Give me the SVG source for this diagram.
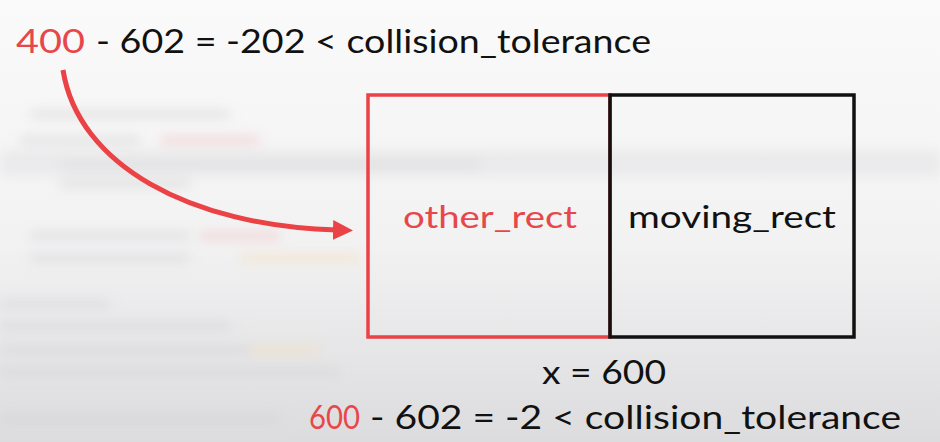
<svg xmlns="http://www.w3.org/2000/svg" width="940" height="442" viewBox="0 0 940 442">
<defs>
<linearGradient id="bg" x1="0" y1="0" x2="0" y2="1">
<stop offset="0" stop-color="#fafafa"/>
<stop offset="0.55" stop-color="#f2f2f3"/>
<stop offset="1" stop-color="#dcdcde"/>
</linearGradient>
<filter id="blur" x="-10%" y="-10%" width="120%" height="120%"><feGaussianBlur stdDeviation="6"/></filter>
<marker id="ah" viewBox="0 0 10 10" refX="2" refY="5" markerWidth="4" markerHeight="4.2" orient="auto" markerUnits="strokeWidth">
<path d="M0 0 L10 5 L0 10 Z" fill="#ea4245"/>
</marker>
<style>
.t{font-family:Lato,"Open Sans",sans-serif;font-size:33px;fill:#111}
.r{fill:#e8474a}
.lbl{font-family:Lato,"Open Sans",sans-serif;font-size:31px;text-anchor:middle}
.blk{fill:#d2d2d4}
</style>
</defs>
<rect width="940" height="442" fill="url(#bg)"/>
<g id="background" filter="url(#blur)" opacity="0.55">
<rect x="0" y="150" width="940" height="26" fill="#e2e2e4"/>
<rect x="30" y="110" width="200" height="8" class="blk"/>
<rect x="20" y="136" width="120" height="8" class="blk"/>
<rect x="160" y="136" width="100" height="8" fill="#f0c0c0"/>
<rect x="60" y="160" width="420" height="9" class="blk"/>
<rect x="60" y="180" width="130" height="8" class="blk"/>
<rect x="30" y="232" width="160" height="8" class="blk"/>
<rect x="200" y="232" width="80" height="8" fill="#f0c0c0"/>
<rect x="30" y="254" width="160" height="8" class="blk"/>
<rect x="240" y="254" width="120" height="8" fill="#f3dcb8"/>
<rect x="0" y="300" width="110" height="8" class="blk"/>
<rect x="0" y="322" width="230" height="8" class="blk"/>
<rect x="0" y="346" width="300" height="8" class="blk"/>
<rect x="250" y="346" width="70" height="8" fill="#f3dcb8"/>
<rect x="0" y="368" width="340" height="8" class="blk"/>
<rect x="0" y="414" width="280" height="8" class="blk"/>
</g>
<g id="connectors">
<path d="M63 70 C78 165 190 226 337 230" fill="none" stroke="#ea4245" stroke-width="5" marker-end="url(#ah)"/>
</g>
<g id="other_rect">
<rect x="368" y="95" width="242" height="242" fill="none" stroke="#ea4245" stroke-width="3.5"/>
<text x="490" y="228" class="lbl r" textLength="174" lengthAdjust="spacingAndGlyphs">other_rect</text>
</g>
<g id="moving_rect">
<rect x="610" y="95" width="244" height="242" fill="none" stroke="#111" stroke-width="3.5"/>
<text x="732" y="228" class="lbl" fill="#111" textLength="208" lengthAdjust="spacingAndGlyphs">moving_rect</text>
</g>
<g id="top_equation">
<text x="16" y="53" class="t r" textLength="69" lengthAdjust="spacingAndGlyphs">400</text>
<text x="96" y="53" class="t" textLength="555" lengthAdjust="spacingAndGlyphs">- 602 = -202 &lt; collision_tolerance</text>
</g>
<g id="x_label">
<text x="542" y="384" class="t" textLength="124" lengthAdjust="spacingAndGlyphs">x = 600</text>
</g>
<g id="bottom_equation">
<text x="309" y="429" class="t r" textLength="51" lengthAdjust="spacingAndGlyphs">600</text>
<text x="370" y="429" class="t" textLength="531" lengthAdjust="spacingAndGlyphs">- 602 = -2 &lt; collision_tolerance</text>
</g>
</svg>
